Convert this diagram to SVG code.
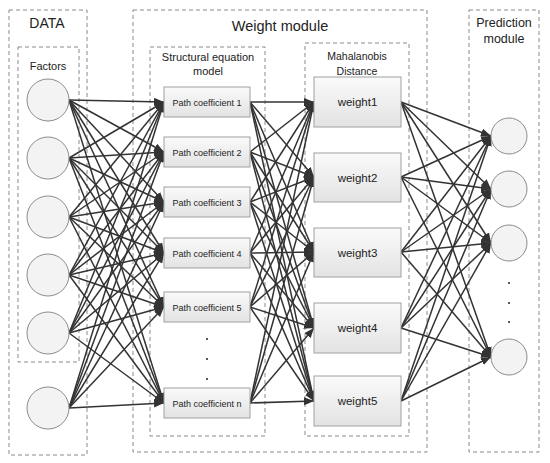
<svg xmlns="http://www.w3.org/2000/svg" width="550" height="463" viewBox="0 0 550 463">
<style>
.dash{fill:none;stroke:#8a8a8a;stroke-width:1;stroke-dasharray:4,3}
.circ{fill:#f3f3f3;stroke:#8c8c8c;stroke-width:1}
.box{fill:url(#g);stroke:#a0a0a0;stroke-width:1}
.t{font-family:"Liberation Sans",Arial,sans-serif;fill:#222;text-anchor:middle}
#conn line{stroke:#333;stroke-width:1.5;marker-end:url(#ah)}
</style>
<defs>
<linearGradient id="g" x1="0" y1="0" x2="0" y2="1">
<stop offset="0" stop-color="#fafafa"/>
<stop offset="1" stop-color="#e3e3e3"/>
</linearGradient>
<marker id="ah" markerUnits="userSpaceOnUse" markerWidth="11" markerHeight="8" refX="10" refY="4" orient="auto">
<path d="M0,0 L10,4 L0,8 z" fill="#333"/>
</marker>
</defs>
<rect width="550" height="463" fill="#fff"/>

<g id="data-module">
<rect class="dash" x="9" y="10" width="78" height="445"/>
<text class="t" x="47" y="28" font-size="14">DATA</text>
</g>
<g id="factors">
<rect class="dash" x="18" y="47" width="61" height="315"/>
<text class="t" x="48" y="70" font-size="11">Factors</text>
</g>
<g id="weight-module">
<rect class="dash" x="133" y="10" width="294" height="442"/>
<text class="t" x="280" y="31" font-size="14.5">Weight module</text>
</g>
<g id="sem">
<rect class="dash" x="150" y="47" width="115" height="389"/>
<text class="t" x="208" y="61" font-size="11">Structural equation</text>
<text class="t" x="208" y="75" font-size="11">model</text>
</g>
<g id="mahalanobis">
<rect class="dash" x="305" y="43" width="104" height="393"/>
<text class="t" x="357" y="60" font-size="10.5">Mahalanobis</text>
<text class="t" x="357" y="75" font-size="10.5">Distance</text>
</g>
<g id="prediction-module">
<rect class="dash" x="469" y="10" width="70" height="442"/>
<text class="t" x="504" y="27" font-size="12.5">Prediction</text>
<text class="t" x="504" y="43" font-size="12.5">module</text>
</g>

<g id="conn">
<line x1="69" y1="100" x2="164" y2="102"/><line x1="69" y1="100" x2="164" y2="152"/><line x1="69" y1="100" x2="164" y2="202"/><line x1="69" y1="100" x2="164" y2="253"/><line x1="69" y1="100" x2="164" y2="307"/><line x1="69" y1="100" x2="164" y2="403"/>
<line x1="69" y1="158" x2="164" y2="102"/><line x1="69" y1="158" x2="164" y2="152"/><line x1="69" y1="158" x2="164" y2="202"/><line x1="69" y1="158" x2="164" y2="253"/><line x1="69" y1="158" x2="164" y2="307"/><line x1="69" y1="158" x2="164" y2="403"/>
<line x1="69" y1="217" x2="164" y2="102"/><line x1="69" y1="217" x2="164" y2="152"/><line x1="69" y1="217" x2="164" y2="202"/><line x1="69" y1="217" x2="164" y2="253"/><line x1="69" y1="217" x2="164" y2="307"/><line x1="69" y1="217" x2="164" y2="403"/>
<line x1="69" y1="275" x2="164" y2="102"/><line x1="69" y1="275" x2="164" y2="152"/><line x1="69" y1="275" x2="164" y2="202"/><line x1="69" y1="275" x2="164" y2="253"/><line x1="69" y1="275" x2="164" y2="307"/><line x1="69" y1="275" x2="164" y2="403"/>
<line x1="69" y1="333" x2="164" y2="102"/><line x1="69" y1="333" x2="164" y2="152"/><line x1="69" y1="333" x2="164" y2="202"/><line x1="69" y1="333" x2="164" y2="253"/><line x1="69" y1="333" x2="164" y2="307"/><line x1="69" y1="333" x2="164" y2="403"/>
<line x1="69" y1="408" x2="164" y2="102"/><line x1="69" y1="408" x2="164" y2="152"/><line x1="69" y1="408" x2="164" y2="202"/><line x1="69" y1="408" x2="164" y2="253"/><line x1="69" y1="408" x2="164" y2="307"/><line x1="69" y1="408" x2="164" y2="403"/>

<line x1="250" y1="102" x2="314" y2="102"/><line x1="250" y1="102" x2="314" y2="177"/><line x1="250" y1="102" x2="314" y2="252"/><line x1="250" y1="102" x2="314" y2="328"/><line x1="250" y1="102" x2="314" y2="401"/>
<line x1="250" y1="152" x2="314" y2="102"/><line x1="250" y1="152" x2="314" y2="177"/><line x1="250" y1="152" x2="314" y2="252"/><line x1="250" y1="152" x2="314" y2="328"/><line x1="250" y1="152" x2="314" y2="401"/>
<line x1="250" y1="202" x2="314" y2="102"/><line x1="250" y1="202" x2="314" y2="177"/><line x1="250" y1="202" x2="314" y2="252"/><line x1="250" y1="202" x2="314" y2="328"/><line x1="250" y1="202" x2="314" y2="401"/>
<line x1="250" y1="253" x2="314" y2="102"/><line x1="250" y1="253" x2="314" y2="177"/><line x1="250" y1="253" x2="314" y2="252"/><line x1="250" y1="253" x2="314" y2="328"/><line x1="250" y1="253" x2="314" y2="401"/>
<line x1="250" y1="307" x2="314" y2="102"/><line x1="250" y1="307" x2="314" y2="177"/><line x1="250" y1="307" x2="314" y2="252"/><line x1="250" y1="307" x2="314" y2="328"/><line x1="250" y1="307" x2="314" y2="401"/>
<line x1="250" y1="403" x2="314" y2="102"/><line x1="250" y1="403" x2="314" y2="177"/><line x1="250" y1="403" x2="314" y2="252"/><line x1="250" y1="403" x2="314" y2="328"/><line x1="250" y1="403" x2="314" y2="401"/>

<line x1="401" y1="102" x2="491" y2="136"/><line x1="401" y1="102" x2="491" y2="189"/><line x1="401" y1="102" x2="491" y2="243"/><line x1="401" y1="102" x2="491" y2="357"/>
<line x1="401" y1="177" x2="491" y2="136"/><line x1="401" y1="177" x2="491" y2="189"/><line x1="401" y1="177" x2="491" y2="243"/><line x1="401" y1="177" x2="491" y2="357"/>
<line x1="401" y1="252" x2="491" y2="136"/><line x1="401" y1="252" x2="491" y2="189"/><line x1="401" y1="252" x2="491" y2="243"/><line x1="401" y1="252" x2="491" y2="357"/>
<line x1="401" y1="328" x2="491" y2="136"/><line x1="401" y1="328" x2="491" y2="189"/><line x1="401" y1="328" x2="491" y2="243"/><line x1="401" y1="328" x2="491" y2="357"/>
<line x1="401" y1="401" x2="491" y2="136"/><line x1="401" y1="401" x2="491" y2="189"/><line x1="401" y1="401" x2="491" y2="243"/><line x1="401" y1="401" x2="491" y2="357"/>
</g>

<g id="factor1"><circle class="circ" cx="48" cy="100" r="21"/></g>
<g id="factor2"><circle class="circ" cx="48" cy="158" r="21"/></g>
<g id="factor3"><circle class="circ" cx="48" cy="217" r="21"/></g>
<g id="factor4"><circle class="circ" cx="48" cy="275" r="21"/></g>
<g id="factor5"><circle class="circ" cx="48" cy="333" r="21"/></g>
<g id="factor6"><circle class="circ" cx="48" cy="408" r="21"/></g>

<g id="path1"><rect class="box" x="164" y="87" width="86" height="30"/><text class="t" x="207" y="105.5" font-size="9">Path coefficient 1</text></g>
<g id="path2"><rect class="box" x="164" y="137" width="86" height="30"/><text class="t" x="207" y="155.5" font-size="9">Path coefficient 2</text></g>
<g id="path3"><rect class="box" x="164" y="187" width="86" height="30"/><text class="t" x="207" y="205.5" font-size="9">Path coefficient 3</text></g>
<g id="path4"><rect class="box" x="164" y="238" width="86" height="30"/><text class="t" x="207" y="256.5" font-size="9">Path coefficient 4</text></g>
<g id="path5"><rect class="box" x="164" y="292" width="86" height="30"/><text class="t" x="207" y="310.5" font-size="9">Path coefficient 5</text></g>
<g id="path-dots">
<circle cx="207" cy="339" r="1" fill="#222"/><circle cx="207" cy="359" r="1" fill="#222"/><circle cx="207" cy="379" r="1" fill="#222"/>
</g>
<g id="pathn"><rect class="box" x="164" y="388" width="86" height="30"/><text class="t" x="207" y="406.5" font-size="9">Path coefficient n</text></g>

<g id="weight1"><rect class="box" x="314" y="77" width="87" height="50"/><text class="t" x="357.5" y="106" font-size="11.5">weight1</text></g>
<g id="weight2"><rect class="box" x="314" y="153" width="87" height="49"/><text class="t" x="357.5" y="182" font-size="11.5">weight2</text></g>
<g id="weight3"><rect class="box" x="314" y="228" width="87" height="49"/><text class="t" x="357.5" y="257" font-size="11.5">weight3</text></g>
<g id="weight4"><rect class="box" x="314" y="303" width="87" height="50"/><text class="t" x="357.5" y="332" font-size="11.5">weight4</text></g>
<g id="weight5"><rect class="box" x="314" y="376" width="87" height="50"/><text class="t" x="357.5" y="405" font-size="11.5">weight5</text></g>

<g id="pred1"><circle class="circ" cx="509" cy="136" r="18"/></g>
<g id="pred2"><circle class="circ" cx="509" cy="189" r="18"/></g>
<g id="pred3"><circle class="circ" cx="509" cy="243" r="18"/></g>
<g id="pred-dots">
<circle cx="509" cy="283" r="1" fill="#222"/><circle cx="509" cy="303" r="1" fill="#222"/><circle cx="509" cy="322" r="1" fill="#222"/>
</g>
<g id="pred4"><circle class="circ" cx="509" cy="357" r="18"/></g>
</svg>
